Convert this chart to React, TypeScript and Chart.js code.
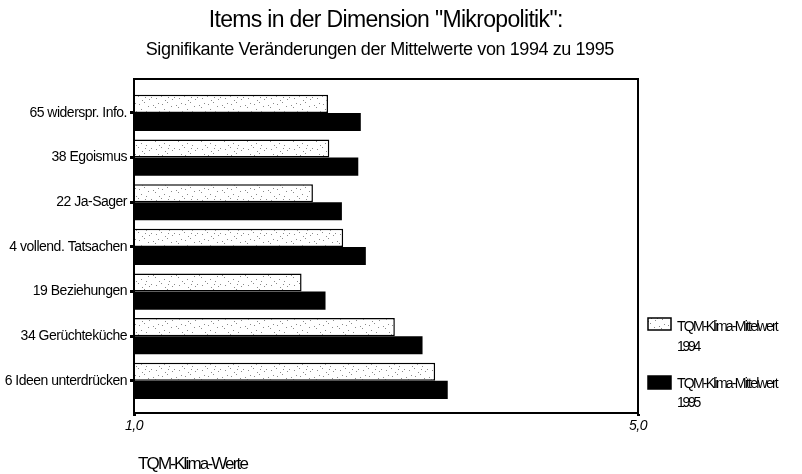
import React, { useEffect, useRef } from "react";
import { Chart, registerables } from "chart.js";

Chart.register(...registerables);

const categories = [
  "65 widerspr. Info.",
  "38 Egoismus",
  "22 Ja-Sager",
  "4 vollend. Tatsachen",
  "19 Beziehungen",
  "34 Gerüchteküche",
  "6 Ideen unterdrücken",
];
const mean1994 = [2.54, 2.55, 2.42, 2.66, 2.33, 3.07, 3.39];
const mean1995 = [2.8, 2.78, 2.65, 2.84, 2.52, 3.29, 3.49];
const seriesNames = ["TQM-Klima-Mittelwert", "TQM-Klima-Mittelwert"];
const seriesYears = ["1994", "1995"];
const xTickValues = [1, 5];
const titleText = 'Items in der Dimension "Mikropolitik":';
const subtitleText = "Signifikante Veränderungen der Mittelwerte von 1994 zu 1995";
const xAxisTitle = "TQM-Klima-Werte";

const FONT = '"Liberation Sans", Arial, sans-serif';

function makeSpeckle(ctx: CanvasRenderingContext2D): CanvasPattern | string {
  const c = document.createElement("canvas");
  c.width = 23;
  c.height = 17;
  const g = c.getContext("2d");
  if (!g) return "#eeeeee";
  g.fillStyle = "#ffffff";
  g.fillRect(0, 0, 23, 17);
  g.fillStyle = "#8a8a8a";
  const dots = [
    [1, 2], [6, 0], [10, 4], [3, 7], [8, 9], [13, 12], [0, 11], [17, 5],
    [20, 1], [11, 14], [4, 15], [21, 9], [15, 3], [18, 13], [7, 12],
  ];
  dots.forEach(([x, y]) => g.fillRect(x, y, 1, 1));
  const p = ctx.createPattern(c, "repeat");
  return p || "#eeeeee";
}

function drawFitted(
  ctx: CanvasRenderingContext2D,
  text: string,
  x: number,
  y: number,
  font: string,
  targetWidth: number,
  align: CanvasTextAlign
) {
  ctx.font = font;
  (ctx as any).letterSpacing = "0px";
  const w = ctx.measureText(text).width;
  const ls = (targetWidth - w) / Math.max(1, text.length);
  (ctx as any).letterSpacing = ls.toFixed(2) + "px";
  ctx.textAlign = align;
  ctx.textBaseline = "alphabetic";
  ctx.fillStyle = "#000";
  ctx.fillText(text, align === "center" ? x + ls / 2 : x, y);
  (ctx as any).letterSpacing = "0px";
}

export default function App() {
  const ref = useRef<HTMLCanvasElement | null>(null);

  useEffect(() => {
    document.body.style.margin = "0";
    const canvas = ref.current;
    if (!canvas) return;
    const ctx = canvas.getContext("2d");
    if (!ctx) return;
    const speckle = makeSpeckle(ctx);

    const decor = {
      id: "decor",
      beforeDraw(chart: any) {
        (chart.ctx as any).letterSpacing = "-0.5px";
      },
      afterDraw(chart: any) {
        const c: CanvasRenderingContext2D = chart.ctx;
        const a = chart.chartArea;
        c.save();
        (c as any).letterSpacing = "0px";
        c.strokeStyle = "#000";
        c.lineWidth = 2;
        c.strokeRect(a.left, a.top, a.right - a.left, a.bottom - a.top);
        drawFitted(c, titleText, 386, 27, `23px ${FONT}`, 354, "center");
        drawFitted(c, subtitleText, 380, 55, `18px ${FONT}`, 468, "center");
        drawFitted(c, xAxisTitle, 138, 469, `17px ${FONT}`, 109, "left");
        const boxes = [
          { y: 318, h: 12, t1: 331, t2: 351 },
          { y: 376, h: 13, t1: 388, t2: 407 },
        ];
        boxes.forEach((b, i) => {
          c.fillStyle = i === 0 ? (speckle as any) : "#000";
          c.fillRect(648, b.y, 23, b.h);
          c.strokeStyle = "#000";
          c.lineWidth = 1.5;
          c.strokeRect(648, b.y, 23, b.h);
          drawFitted(c, seriesNames[i], 677, b.t1, `14px ${FONT}`, 100, "left");
          drawFitted(c, seriesYears[i], 677, b.t2, `14px ${FONT}`, 22, "left");
        });
        c.restore();
      },
    };

    const chart = new Chart(canvas, {
      type: "bar",
      data: {
        datasets: [
          {
            label: seriesNames[0] + " " + seriesYears[0],
            data: categories.map((_, i) => ({ x: mean1994[i], y: i })),
            backgroundColor: speckle as any,
            borderColor: "#000",
            borderWidth: 1.5,
            borderSkipped: "start",
            base: 1,
            categoryPercentage: 0.81,
            barPercentage: 1,
          },
          {
            label: seriesNames[1] + " " + seriesYears[1],
            data: categories.map((_, i) => ({ x: mean1995[i], y: i })),
            backgroundColor: "#000",
            borderColor: "#000",
            borderWidth: 0,
            base: 1,
            categoryPercentage: 0.81,
            barPercentage: 1,
          },
        ],
      } as any,
      options: {
        indexAxis: "y",
        animation: false,
        responsive: false,
        layout: { padding: { top: 79, right: 164, left: 0, bottom: 0 } },
        plugins: {
          legend: { display: false },
          title: { display: false },
          tooltip: { enabled: false },
        },
        scales: {
          x: {
            type: "linear",
            min: 1,
            max: 5,
            offset: false,
            afterBuildTicks: (s: any) => {
              s.ticks = xTickValues.map((v) => ({ value: v }));
            },
            afterFit: (s: any) => {
              s.height = 61;
            },
            ticks: {
              callback: (v: any) => Number(v).toFixed(1).replace(".", ","),
              font: { family: FONT, size: 14, style: "italic" },
              color: "#000",
              padding: 2,
              maxRotation: 0,
              autoSkip: false,
            },
            grid: {
              offset: false,
              drawOnChartArea: false,
              drawTicks: true,
              tickLength: 3,
              tickWidth: 3,
              tickColor: "#000",
            },
            border: { display: true, color: "#000", width: 2 },
          },
          y: {
            type: "linear",
            reverse: true,
            min: -0.76,
            max: 6.72,
            offset: false,
            afterBuildTicks: (s: any) => {
              s.ticks = categories.map((_, i) => ({ value: i }));
            },
            afterFit: (s: any) => {
              s.width = 134;
            },
            ticks: {
              callback: (v: any) => categories[Number(v)] ?? "",
              font: { family: FONT, size: 14 },
              color: "#000",
              padding: 3,
              autoSkip: false,
            },
            grid: {
              offset: false,
              drawOnChartArea: false,
              drawTicks: true,
              tickLength: 4,
              tickWidth: 3,
              tickColor: "#000",
            },
            border: { display: true, color: "#000", width: 2 },
          },
        },
      } as any,
      plugins: [decor],
    });

    return () => chart.destroy();
  }, []);

  return (
    <canvas
      ref={ref}
      width={802}
      height={474}
      style={{ display: "block", width: 802, height: 474 }}
    />
  );
}
